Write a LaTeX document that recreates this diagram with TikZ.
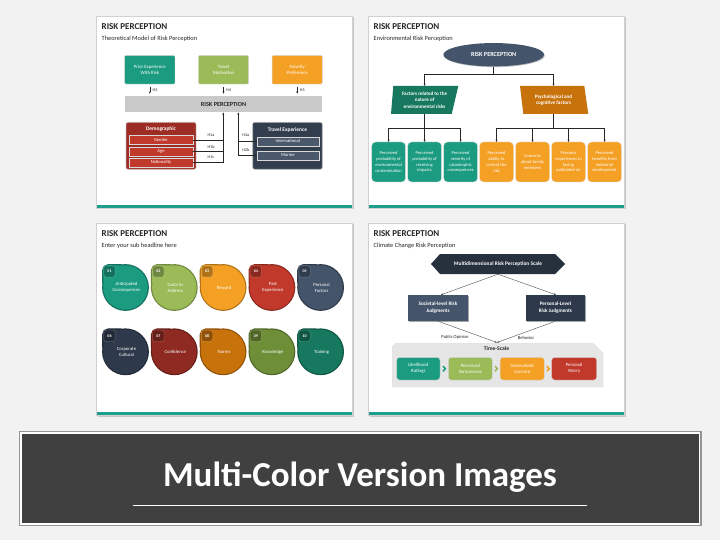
\documentclass[tikz,border=0pt]{standalone}
\usepackage{fontspec}
\setmainfont{Carlito}
\usetikzlibrary{arrows.meta,calc,shapes.geometric,shadows}
\definecolor{pagebg}{HTML}{F2F2F2}
\definecolor{cteal}{HTML}{1B9C80}
\definecolor{cgreen}{HTML}{9BBB59}
\definecolor{corange}{HTML}{F4A024}
\definecolor{cred}{HTML}{C0392B}
\definecolor{cslate}{HTML}{44546A}
\definecolor{cnavy}{HTML}{2E3A4B}
\definecolor{cdred}{HTML}{8E2A22}
\definecolor{cdorange}{HTML}{C8720C}
\definecolor{colive}{HTML}{6E8E38}
\definecolor{cdteal}{HTML}{16785F}
\definecolor{chex}{HTML}{27303D}
\definecolor{cbar}{HTML}{1E9E8C}
\definecolor{cbanner}{HTML}{404040}
\definecolor{ctext}{HTML}{262626}
\definecolor{cdemo}{HTML}{9C2C24}
\definecolor{ctrav}{HTML}{323D4E}
\definecolor{ctrow}{HTML}{4B586B}
\definecolor{cpanel}{HTML}{E6E6E6}
\definecolor{cgraybar}{HTML}{C9C9C9}

\newcommand\slidepanel[2]{%
  \fill[black!22] (#1+1.5,#2+1.5) rectangle (#1+257.5,#2+193.5);
  \filldraw[fill=white, draw=black!18, line width=0.4pt] (#1,#2) rectangle (#1+256,#2+192);
  \fill[cbar] (#1+0.5,#2+189.4) rectangle (#1+255.5,#2+191.6);}

\newcommand\dropitem[6]{%
  \draw[line width=2.4pt, draw=#3!72!black] (#1,#2) circle (22.2);
  \draw[line width=2.4pt, draw=#3!72!black, rounded corners=5pt] (#1,#2) -- (#1-22.2,#2) -- (#1-22.2,#2-22.2) -- (#1,#2-22.2) -- cycle;
  \fill[#3] (#1,#2) circle (22.2);
  \fill[#3, rounded corners=5pt] (#1,#2) -- (#1-22.2,#2) -- (#1-22.2,#2-22.2) -- (#1,#2-22.2) -- cycle;
  \node[dropbadge, fill=#3!72!black, draw=#3!85!white] (#6b) at (#1-16,#2-16) {#4};
  \node[droptext] (#6) at (#1+1,#2) {#5};}

\begin{document}
\begin{tikzpicture}[x=1pt,y=-1pt,
  ttl/.style={font=\bfseries\fontsize{9}{10}\selectfont, text=ctext, inner sep=0pt, anchor=west},
  subttl/.style={font=\fontsize{6.4}{7.5}\selectfont, text=ctext, inner sep=0pt, anchor=west},
  smalltxt/.style={font=\fontsize{4.8}{6}\selectfont, text=white, align=center, inner sep=0pt},
  lab/.style={font=\fontsize{4.2}{5}\selectfont, text=ctext, inner sep=0pt},
  arr/.style={-{Stealth[length=2.2pt,width=2pt]}, line width=0.5pt, draw=ctext},
  conn/.style={line width=0.5pt, draw=ctext},
  tbox/.style={rectangle, rounded corners=1.2pt, minimum width=50.3pt, minimum height=28.7pt, smalltxt, draw=white!85!black, line width=0.4pt},
  grpbox/.style={rectangle, rounded corners=2pt, minimum width=70pt, minimum height=47pt, draw=white!55!gray, dashed, dash pattern=on 1.2pt off 0.8pt, line width=0.7pt},
  grphead/.style={font=\bfseries\fontsize{5.4}{6}\selectfont, text=white, inner sep=0pt},
  rowbox/.style={rectangle, minimum height=9pt, inner sep=0pt, font=\fontsize{4.6}{5}\selectfont, text=white, draw=white!70!gray, line width=0.3pt},
  paratxt/.style={font=\bfseries\fontsize{5.1}{6.6}\selectfont, text=white, align=center, inner sep=0pt, minimum width=60pt, minimum height=28pt},
  ebox/.style={rectangle, rounded corners=4pt, minimum width=34pt, minimum height=40pt, inner sep=0pt, font=\fontsize{4.5}{5.8}\selectfont, text=white, align=center, draw=white!80!gray, line width=0.3pt},
  dropbadge/.style={rectangle, rounded corners=2.5pt, minimum size=11.5pt, inner sep=0pt, font=\bfseries\fontsize{4}{4.5}\selectfont, text=white, line width=0.6pt},
  droptext/.style={font=\fontsize{4.7}{6}\selectfont, text=white, align=center, inner sep=0pt},
  judg/.style={rectangle, minimum height=26pt, inner sep=0pt, font=\bfseries\fontsize{5.2}{7}\selectfont, text=white, align=center, drop shadow={shadow xshift=1.2pt, shadow yshift=-1.2pt, fill=black, opacity=0.35}},
  tsbox/.style={rectangle, rounded corners=3pt, minimum height=22.7pt, inner sep=0pt, font=\fontsize{4.8}{6}\selectfont, text=white, align=center, draw=white!70!gray, line width=0.4pt},
  thinl/.style={line width=0.4pt, draw=black!70},
  thinarr/.style={-{Stealth[length=2.2pt,width=2pt]}, line width=0.4pt, draw=black!70}]

\useasboundingbox (0,0) rectangle (720,540);
\fill[pagebg] (0,0) rectangle (720,540);

% ---------------- slide frames
\slidepanel{96}{16}
\slidepanel{368}{16}
\slidepanel{96}{223}
\slidepanel{368}{223}

% ================= SLIDE 1
\node[ttl] (t1) at (101.5,27) {RISK PERCEPTION};
\node[subttl] (s1) at (101.5,38.5) {Theoretical Model of Risk Perception};

\node[tbox, fill=cteal] (p1) at (149.8,69.7) {Prior Experience\\With Risk};
\node[tbox, fill=cgreen] (p2) at (223.5,69.7) {Travel\\Motivation};
\node[tbox, fill=corange] (p3) at (297.2,69.7) {Novelty\\Preference};

\node[rectangle, fill=cgraybar, minimum width=197.6pt, minimum height=16pt, inner sep=0pt,
      font=\bfseries\fontsize{6.2}{7}\selectfont, text=ctext] (bar) at (223.5,104.3) {RISK PERCEPTION};

\draw[arr, shorten <=2.8pt, shorten >=2.5pt] (p1.south) -- (p1.south |- bar.north);
\draw[arr, shorten <=2.8pt, shorten >=2.5pt] (p2.south) -- (p2.south |- bar.north);
\draw[arr, shorten <=2.8pt, shorten >=2.5pt] (p3.south) -- (p3.south |- bar.north);
\node[lab, anchor=west] (h3) at (152.5,90.3) {H3};
\node[lab, anchor=west] (h4) at (226,90.3) {H4};
\node[lab, anchor=west] (h5) at (299.7,90.3) {H5};

% Demographic group
\node[grpbox, fill=cdemo] (demo) at (161,145.8) {};
\node[grphead] (demoh) at (161,129.2) {Demographic};
\node[rowbox, fill=cred, minimum width=63.4pt] (gen) at (161,140) {Gender};
\node[rowbox, fill=cred, minimum width=63.4pt] (age) at (161,151.2) {Age};
\node[rowbox, fill=cred, minimum width=63.4pt] (nat) at (161,162.2) {Nationality};
\coordinate (v1) at (223.3,162.2);
\draw[conn] (gen.east) -- (gen.east -| v1);
\draw[conn] (age.east) -- (age.east -| v1);
\draw[arr] (nat.east) -- (v1) -- (v1 |- bar.south);
\node[lab] (h1a) at (211,135.6) {H1a};
\node[lab] (h1b) at (211,146.6) {H1b};
\node[lab] (h1c) at (211,157.6) {H1c};

% Travel experience group
\node[grpbox, fill=ctrav, minimum width=69.6pt] (trav) at (287.5,145.8) {};
\node[grphead] (travh) at (287.5,129.6) {Travel Experience};
\node[rowbox, fill=ctrow, minimum width=62.3pt] (intl) at (287.8,141.2) {International};
\node[rowbox, fill=ctrow, minimum width=62.3pt] (mar) at (287.8,155.2) {Marine};
\coordinate (v2) at (238.3,155.2);
\draw[conn] (intl.west) -- (intl.west -| v2);
\draw[arr] (mar.west) -- (v2) -- (v2 |- bar.south);
\node[lab] (h2a) at (245.8,135.6) {H2a};
\node[lab] (h2b) at (245.8,150.2) {H2b};

% ================= SLIDE 2
\node[ttl] (t2) at (373.5,27) {RISK PERCEPTION};
\node[subttl] (s2) at (373.5,38.5) {Environmental Risk Perception};

\node[ellipse, fill=cslate, minimum width=100.7pt, minimum height=23.3pt, inner sep=0pt,
      font=\bfseries\fontsize{6.2}{7}\selectfont, text=white,
      drop shadow={shadow xshift=0.8pt, shadow yshift=-0.8pt, fill=black, opacity=0.25}] (rp) at (493.7,54.7) {RISK PERCEPTION};

\fill[cdteal] (393.3,86) -- (458.3,86) -- (451.7,114) -- (391,114) -- cycle;
\fill[cdorange] (520,86) -- (584.3,86) -- (588.3,114) -- (523.3,114) -- cycle;
\node[paratxt] (f1) at (424.6,100) {Factors related to the\\nature of\\environmental risks};
\node[paratxt] (f2) at (553.5,100) {Psychological and\\cognitive factors};

\coordinate (j0) at (493.7,74);
\draw[conn] (rp.south) -- (j0);
\draw[conn] (f1.north |- j0) -- (f2.north |- j0);
\draw[arr] (f1.north |- j0) -- (f1.north);
\draw[arr] (f2.north |- j0) -- (f2.north);

\node[ebox, fill=cteal] (e1) at (388.6,162) {Perceived\\probability of\\environmental\\contamination};
\node[ebox, fill=cteal] (e2) at (424.6,162) {Perceived\\probability of\\receiving\\impacts};
\node[ebox, fill=cteal] (e3) at (460.6,162) {Perceived\\severity of\\catastrophic\\consequences};
\node[ebox, fill=corange] (e4) at (496.5,162) {Perceived\\ability to\\control the\\risk};
\node[ebox, fill=corange] (e5) at (532.5,162) {Concerns\\about family\\members};
\node[ebox, fill=corange] (e6) at (568.5,162) {Previous\\experiences in\\facing\\pullulated air};
\node[ebox, fill=corange] (e7) at (604.6,162) {Perceived\\benefits from\\industrial\\development};

\coordinate (j1) at (424.6,128);
\coordinate (j2) at (553.5,128);
\draw[conn] (f1.south) -- (j1);
\draw[conn] (f2.south) -- (j2);
\draw[conn] (e1.north |- j1) -- (e3.north |- j1);
\draw[conn] (e4.north |- j2) -- (e7.north |- j2);
\foreach \e in {e1,e2,e3} {\draw[arr] (\e.north |- j1) -- (\e.north);}
\foreach \e in {e4,e5,e6,e7} {\draw[arr] (\e.north |- j2) -- (\e.north);}

% ================= SLIDE 3
\node[ttl] (t3) at (101.5,234) {RISK PERCEPTION};
\node[subttl] (s3) at (101.5,245.5) {Enter your sub headline here};

\dropitem{125.5}{287.5}{cteal}{01}{Anticipated\\Consequences}{d1}
\dropitem{174.3}{287.5}{cgreen}{02}{Costs to\\Address}{d2}
\dropitem{223.1}{287.5}{corange}{03}{Reward}{d3}
\dropitem{271.9}{287.5}{cred}{04}{Past\\Experience}{d4}
\dropitem{320.6}{287.5}{cslate}{05}{Personal\\Factors}{d5}
\dropitem{125.5}{351.8}{cnavy}{06}{Corporate\\Cultural}{d6}
\dropitem{174.3}{351.8}{cdred}{07}{Confidence}{d7}
\dropitem{223.1}{351.8}{cdorange}{08}{Norms}{d8}
\dropitem{271.9}{351.8}{colive}{09}{Knowledge}{d9}
\dropitem{320.6}{351.8}{cdteal}{10}{Training}{d10}

% ================= SLIDE 4
\node[ttl] (t4) at (373.5,234) {RISK PERCEPTION};
\node[subttl] (s4) at (373.5,245.5) {Climate Change Risk Perception};

\fill[chex] (431,264) -- (440,254) -- (555,254) -- (565,264) -- (555,274) -- (440,274) -- cycle;
\node[font=\bfseries\fontsize{5.4}{6}\selectfont, text=white, inner sep=0pt, minimum width=115pt, minimum height=20pt] (ms) at (498,264) {Multidimensional Risk Perception Scale};

\node[judg, fill=cslate, minimum width=60pt] (sl) at (438,308) {Societal-level Risk\\Judgments};
\node[judg, fill=cnavy, minimum width=59.3pt] (pl) at (555.4,308) {Personal-Level\\Risk Judgments};

\draw[thinarr] (ms.south) -- ($(sl.north)+(3,0)$);
\draw[thinarr] (ms.south) -- ($(pl.north)+(0.5,0)$);

\fill[cpanel, draw=black!12, line width=0.4pt] (392.3,346.5) -- (395.5,343.3) -- (593,343.3) -- (603,353) -- (603,387) -- (392.3,387) -- cycle;

\coordinate (jt) at (497,342.5);
\draw[thinarr] (sl.south) -- (jt);
\draw[thinarr] (pl.south) -- (jt);
\node[lab, font=\fontsize{4.6}{5}\selectfont] (po) at (455,337.3) {Public Opinion};
\node[lab, font=\fontsize{4.6}{5}\selectfont] (bh) at (526,338) {Behavior};

\node[font=\bfseries\fontsize{5.6}{6}\selectfont, text=ctext, inner sep=0pt] (ts) at (496.5,348.7) {Time-Scale};

\node[tsbox, fill=cteal, minimum width=43.4pt] (lr) at (418.3,368.7) {Likelihood\\Ratings};
\node[tsbox, fill=cgreen, minimum width=44pt] (ps) at (470.3,368.7) {Perceived\\Seriousness};
\node[tsbox, fill=corange, minimum width=44.3pt] (gc) at (522.2,368.7) {Generalized\\Concern};
\node[tsbox, fill=cred, minimum width=45pt] (pw) at (574.2,368.7) {Personal\\Worry};

\draw[cteal, line width=1.5pt] ($(lr.east)!0.5!(ps.west)+(-1.2,-2.6)$) -- ++(2.4,2.6) -- ++(-2.4,2.6);
\draw[cgreen, line width=1.5pt] ($(ps.east)!0.5!(gc.west)+(-1.2,-2.6)$) -- ++(2.4,2.6) -- ++(-2.4,2.6);
\draw[corange, line width=1.5pt] ($(gc.east)!0.5!(pw.west)+(-1.2,-2.6)$) -- ++(2.4,2.6) -- ++(-2.4,2.6);

% ================= BANNER
\fill[black!42] (19,430.7) rectangle (701.5,526);
\fill[white] (20.3,432) rectangle (700.2,524.7);
\node[rectangle, fill=cbanner, minimum width=676.5pt, minimum height=88.7pt, inner sep=0pt] (banner) at (360.25,478.35) {};
\node[anchor=base, inner sep=0pt, font=\bfseries\fontsize{35}{40}\selectfont, text=white] (btxt) at (360,486) {Multi-Color Version Images};
\draw[white, line width=0.8pt] (133.3,505.3) -- (586.7,505.3);

\end{tikzpicture}
\end{document}
